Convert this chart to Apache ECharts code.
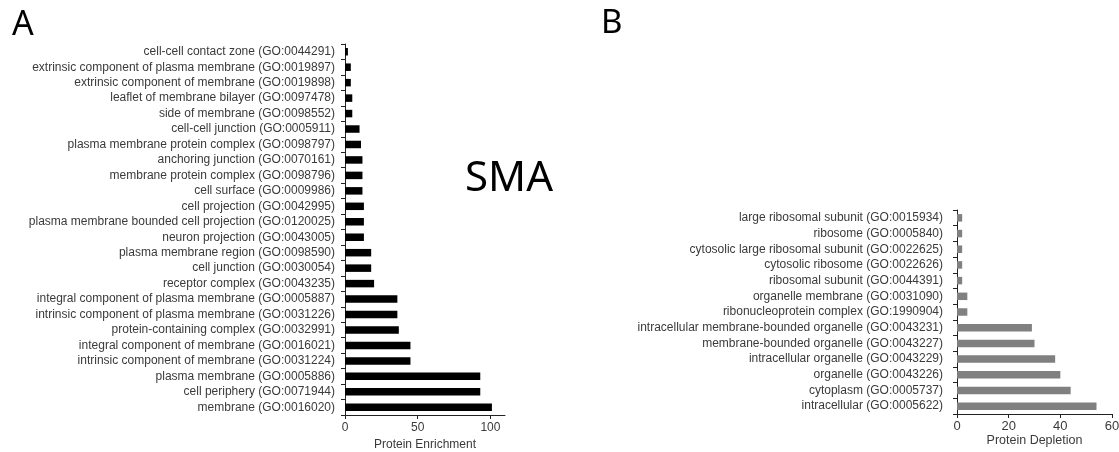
<!DOCTYPE html>
<html>
<head>
<meta charset="utf-8">
<script src="https://cdn.jsdelivr.net/npm/echarts@6/dist/echarts.min.js"></script>
<style>
html,body{margin:0;padding:0;background:#fff;}
#c{width:1119px;height:452px;}
</style>
</head>
<body>
<div id="c"></div>
<script>
const enrichCategories = [
  "cell-cell contact zone (GO:0044291)",
  "extrinsic component of plasma membrane (GO:0019897)",
  "extrinsic component of membrane (GO:0019898)",
  "leaflet of membrane bilayer (GO:0097478)",
  "side of membrane (GO:0098552)",
  "cell-cell junction (GO:0005911)",
  "plasma membrane protein complex (GO:0098797)",
  "anchoring junction (GO:0070161)",
  "membrane protein complex (GO:0098796)",
  "cell surface (GO:0009986)",
  "cell projection (GO:0042995)",
  "plasma membrane bounded cell projection (GO:0120025)",
  "neuron projection (GO:0043005)",
  "plasma membrane region (GO:0098590)",
  "cell junction (GO:0030054)",
  "receptor complex (GO:0043235)",
  "integral component of plasma membrane (GO:0005887)",
  "intrinsic component of plasma membrane (GO:0031226)",
  "protein-containing complex (GO:0032991)",
  "integral component of membrane (GO:0016021)",
  "intrinsic component of membrane (GO:0031224)",
  "plasma membrane (GO:0005886)",
  "cell periphery (GO:0071944)",
  "membrane (GO:0016020)"
];
const enrichValues = [2, 4, 4, 5, 5, 10, 11, 12, 12, 12, 13, 13, 13, 18, 18, 20, 36, 36, 37, 45, 45, 93, 93, 101];

const depleteCategories = [
  "large ribosomal subunit (GO:0015934)",
  "ribosome (GO:0005840)",
  "cytosolic large ribosomal subunit (GO:0022625)",
  "cytosolic ribosome (GO:0022626)",
  "ribosomal subunit (GO:0044391)",
  "organelle membrane (GO:0031090)",
  "ribonucleoprotein complex (GO:1990904)",
  "intracellular membrane-bounded organelle (GO:0043231)",
  "membrane-bounded organelle (GO:0043227)",
  "intracellular organelle (GO:0043229)",
  "organelle (GO:0043226)",
  "cytoplasm (GO:0005737)",
  "intracellular (GO:0005622)"
];
const depleteValues = [2, 2, 2, 2, 2, 4, 4, 29, 30, 38, 40, 44, 54];

const enrichAxisTitle = "Protein Enrichment";
const depleteAxisTitle = "Protein Depletion";

const chart = echarts.init(document.getElementById('c'));
const lab = {color:'#3a3a3a', fontFamily:'Liberation Sans, Arial, sans-serif', fontSize:12};
const axLine = {show:true, lineStyle:{color:'#222', width:1}};
const tick = {show:true, length:4, lineStyle:{color:'#222'}};

chart.setOption({
  animation:false,
  backgroundColor:'#fff',
  grid:[
    {left:345, top:44, width:160, height:371, containLabel:false, outerBoundsMode:'none'},
    {left:957, top:210, width:155, height:204, containLabel:false, outerBoundsMode:'none'}
  ],
  xAxis:[
    {gridIndex:0, type:'value', min:0, max:110, interval:50,
     axisLine:axLine, axisTick:tick, splitLine:{show:false},
     axisLabel:Object.assign({margin:7, showMaxLabel:false}, lab),
     name:enrichAxisTitle, nameLocation:'middle', nameGap:22, nameTextStyle:lab},
    {gridIndex:1, type:'value', min:0, max:60, interval:20,
     axisLine:axLine, axisTick:tick, splitLine:{show:false},
     axisLabel:Object.assign({margin:6}, lab, {fontSize:13}),
     name:depleteAxisTitle, nameLocation:'middle', nameGap:18, nameTextStyle:Object.assign({}, lab, {fontSize:12.5})}
  ],
  yAxis:[
    {gridIndex:0, type:'category', data:enrichCategories, inverse:true,
     axisLine:axLine, axisTick:tick,
     axisLabel:Object.assign({margin:10, interval:0}, lab)},
    {gridIndex:1, type:'category', data:depleteCategories, inverse:true,
     axisLine:axLine, axisTick:tick,
     axisLabel:Object.assign({margin:14, interval:0}, lab)}
  ],
  series:[
    {type:'bar', xAxisIndex:0, yAxisIndex:0, data:enrichValues, barWidth:7.5, itemStyle:{color:'#000'}},
    {type:'bar', xAxisIndex:1, yAxisIndex:1, data:depleteValues, barWidth:7.5, itemStyle:{color:'#808080'}}
  ],
  graphic:[
    {type:'text', left:12, top:8, style:{text:'A', font:'34px "Noto Sans", sans-serif', fill:'#000'}},
    {type:'text', left:601, top:7, style:{text:'B', font:'33px "Noto Sans", sans-serif', fill:'#000'}},
    {type:'text', left:465, top:158, style:{text:'SMA', font:'42px "Noto Sans", sans-serif', fill:'#000'}}
  ]
});
</script>
</body>
</html>
